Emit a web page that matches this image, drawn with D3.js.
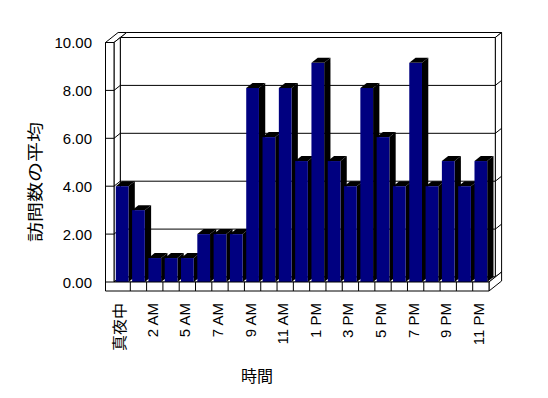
<!DOCTYPE html>
<html>
<head>
<meta charset="utf-8">
<script src="https://cdn.jsdelivr.net/npm/d3@7"></script>
<style>
  body { margin: 0; background: #fff; }
  text { font-family: "Liberation Sans", Arial, "Noto Sans CJK JP", sans-serif; fill: #000; }
</style>
</head>
<body>
<div id="chart"></div>
<script>
// hours (one early-morning hour has no data)
var hours = ["真夜中", "1 AM", "2 AM", "3 AM", "5 AM", "6 AM", "7 AM", "8 AM", "9 AM", "10 AM", "11 AM", "12 PM",
             "1 PM", "2 PM", "3 PM", "4 PM", "5 PM", "6 PM", "7 PM", "8 PM", "9 PM", "10 PM", "11 PM"];
var visits = [4, 3, 1, 1, 1, 2, 2, 2, 8.1, 6.05, 8.1, 5.05,
              9.15, 5.05, 4, 8.1, 6.05, 4, 9.15, 4, 5.05, 4, 5.05];
var yTicks = [0, 2, 4, 6, 8, 10];

(function() {
  var width = 548, height = 398;
  var left = 114, right = 489, floorY = 282;
  var wallT = 8.5, floorT = 9;
  var dx = 6.3, dy = -5;   // one depth step

  var svg = d3.select("#chart").append("svg")
    .attr("width", width)
    .attr("height", height);

  var x = d3.scaleBand()
    .domain(hours)
    .range([left, right])
    .paddingInner(0.22)
    .paddingOuter(0.11);

  var y = d3.scaleLinear()
    .domain([0, 10])
    .range([floorY, 42.5]);

  var step = x.step();
  var topY = y(10);

  function pts(a) { return a.map(function(p) { return p.join(","); }).join(" "); }

  var walls = svg.append("g")
    .attr("fill", "#fff")
    .attr("stroke", "#000")
    .attr("stroke-width", 1);

  // back wall top face
  walls.append("polygon").attr("points", pts([
    [left + dx, topY + dy], [right + dx, topY + dy], [right + 2 * dx, topY + 2 * dy], [left + 2 * dx, topY + 2 * dy]
  ]));
  // back wall right side
  walls.append("polygon").attr("points", pts([
    [right + dx, topY + dy], [right + 2 * dx, topY + 2 * dy], [right + 2 * dx, floorY + 2 * dy], [right + dx, floorY + dy]
  ]));
  // back wall front face
  walls.append("rect")
    .attr("x", left + dx).attr("y", topY + dy)
    .attr("width", right - left).attr("height", floorY - topY);
  // left wall top face
  walls.append("polygon").attr("points", pts([
    [left - wallT, topY], [left, topY], [left + 2 * dx, topY + 2 * dy], [left - wallT + 2 * dx, topY + 2 * dy]
  ]));
  // left wall inner face
  walls.append("polygon").attr("points", pts([
    [left, topY], [left + dx, topY + dy], [left + dx, floorY + dy], [left, floorY]
  ]));
  // floor top face
  walls.append("polygon").attr("points", pts([
    [left, floorY], [right, floorY], [right + dx, floorY + dy], [left + dx, floorY + dy]
  ]));
  // floor right side
  walls.append("polygon").attr("points", pts([
    [right, floorY], [right + 2 * dx, floorY + 2 * dy], [right + 2 * dx, floorY + floorT + 2 * dy], [right, floorY + floorT]
  ]));

  // gridlines on back wall and left wall
  var grid = svg.append("g").attr("stroke", "#000").attr("fill", "none");
  yTicks.filter(function(v) { return v > 0 && v < 10; }).forEach(function(v) {
    grid.append("path").attr("d",
      "M" + left + "," + y(v) +
      "L" + (left + dx) + "," + (y(v) + dy) + "H" + (right + dx) +
      "L" + (right + 2 * dx) + "," + (y(v) + 2 * dy));
  });

  // bars
  var bw = x.bandwidth();
  var bars = svg.append("g").selectAll("g")
    .data(visits)
    .enter()
    .append("g");

  bars.append("polygon")
    .attr("fill", "#000")
    .attr("points", function(d, i) {
      var x0 = x(hours[i]) + bw, yv = y(d);
      return pts([[x0, yv], [x0 + dx, yv + dy], [x0 + dx, floorY + dy], [x0, floorY]]);
    });
  bars.append("polygon")
    .attr("fill", "#000")
    .attr("points", function(d, i) {
      var x0 = x(hours[i]), yv = y(d);
      return pts([[x0, yv], [x0 + bw, yv], [x0 + bw + dx, yv + dy], [x0 + dx, yv + dy]]);
    });
  bars.append("rect")
    .attr("fill", "#000080")
    .attr("x", function(d, i) { return x(hours[i]); })
    .attr("y", function(d) { return y(d); })
    .attr("width", bw)
    .attr("height", function(d) { return floorY - y(d); });

  // front face: left wall + floor edge
  svg.append("polygon")
    .attr("fill", "#fff")
    .attr("stroke", "#000")
    .attr("points", pts([
      [left - wallT, topY], [left, topY], [left, floorY], [right, floorY],
      [right, floorY + floorT], [left - wallT, floorY + floorT]
    ]));

  // ticks on wall front face
  yTicks.forEach(function(v) {
    svg.append("line")
      .attr("x1", left - wallT).attr("x2", left)
      .attr("y1", y(v)).attr("y2", y(v))
      .attr("stroke", "#000");
  });

  // category dividers on floor front
  hours.forEach(function(h, i) {
    if (i === 0) return;
    var bx = x(h) - step * x.paddingInner() / 2;
    svg.append("line")
      .attr("x1", bx).attr("x2", bx)
      .attr("y1", floorY).attr("y2", floorY + floorT)
      .attr("stroke", "#000");
  });

  // y labels
  svg.append("g").selectAll("text")
    .data(yTicks)
    .enter()
    .append("text")
    .attr("x", 92)
    .attr("y", function(d) { return y(d); })
    .attr("text-anchor", "end")
    .attr("dominant-baseline", "central")
    .style("font-size", "15px")
    .text(d3.format(".2f"));

  // x labels, every other category
  var xl = svg.append("g").selectAll("text")
    .data(hours.filter(function(d, i) { return i % 2 === 0; }))
    .enter()
    .append("text")
    .attr("transform", function(d) {
      return "translate(" + (x(d) + bw / 2 - 2.5) + ",303) rotate(-90)";
    })
    .attr("text-anchor", "end")
    .attr("dominant-baseline", "central")
    .style("font-size", "15px")
    .text(function(d) { return d; });
  xl.filter(function(d, i) { return i === 0; })
    .attr("textLength", 48)
    .attr("lengthAdjust", "spacingAndGlyphs");

  // axis titles
  svg.append("text")
    .attr("transform", "translate(35,182) rotate(-90)")
    .attr("text-anchor", "middle")
    .attr("dominant-baseline", "central")
    .attr("textLength", 120)
    .attr("lengthAdjust", "spacingAndGlyphs")
    .style("font-size", "16px")
    .text("訪問数の平均");

  svg.append("text")
    .attr("x", 257)
    .attr("y", 376)
    .attr("text-anchor", "middle")
    .attr("dominant-baseline", "central")
    .style("font-size", "16px")
    .text("時間");
})();
</script>
</body>
</html>
